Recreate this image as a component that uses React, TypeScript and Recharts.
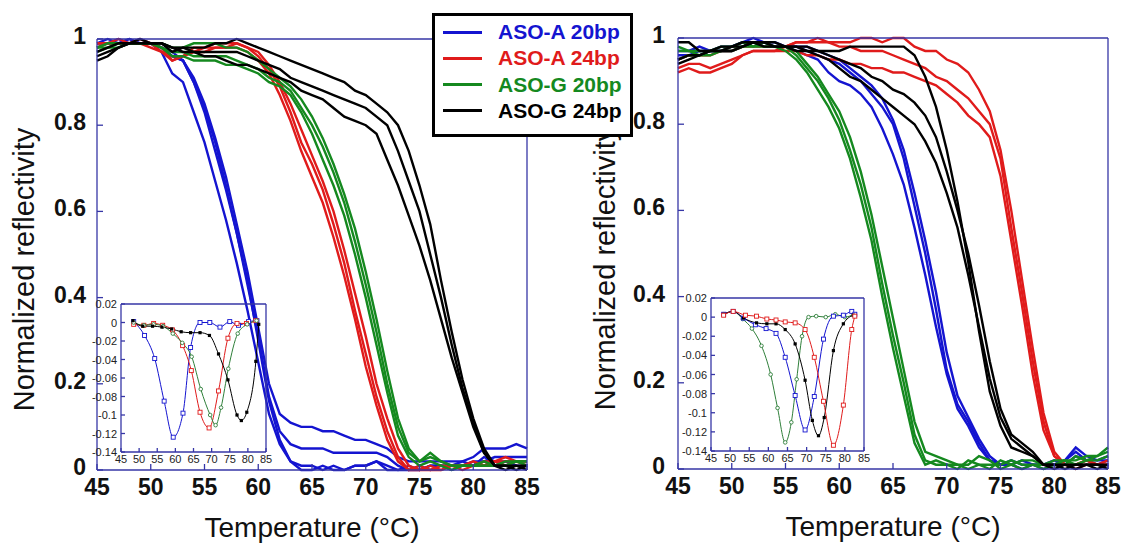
import type { CSSProperties } from 'react';
import { LineChart, Line, XAxis, YAxis } from 'recharts';

const FRAME = '#3636a6';
const FONT = '"Liberation Sans", Arial, Helvetica, sans-serif';
const BLUE = '#1414d0';
const RED = '#e01b1b';
const GREEN = '#15891f';
const BLACK = '#000000';

const TEMPS = [
  45, 46, 47, 48, 49, 50, 51, 52, 53, 54, 55, 56, 57, 58, 59, 60, 61, 62, 63, 64, 65,
  66, 67, 68, 69, 70, 71, 72, 73, 74, 75, 76, 77, 78, 79, 80, 81, 82, 83, 84, 85,
];
const X_TICKS = [45, 50, 55, 60, 65, 70, 75, 80, 85];
const Y_TICKS = [0, 0.2, 0.4, 0.6, 0.8, 1];
const INSET_Y_TICKS = [-0.14, -0.12, -0.1, -0.08, -0.06, -0.04, -0.02, 0, 0.02];
const LEGEND_NAMES = ['ASO-A 20bp', 'ASO-A 24bp', 'ASO-G 20bp', 'ASO-G 24bp'];
const LEGEND_COLORS = [BLUE, RED, GREEN, BLACK];

// left panel, one value per degree from 45 to 85
const L_BLUE_1 = [
  0.99, 0.99, 1.0, 0.99, 0.99, 0.99, 0.98, 0.96, 0.95, 0.9,
  0.83, 0.74, 0.65, 0.55, 0.44, 0.3, 0.16, 0.07, 0.02, 0.01,
  0.01, 0.0, 0.01, 0.0, 0.01, 0.01, 0.02, 0.0, 0.0, 0.01,
  0.0, 0.01, 0.01, 0.01, 0.02, 0.01, 0.03, 0.02, 0.02, 0.02, 0.02,
];
const L_BLUE_2 = [
  0.98, 0.99, 0.99, 1.0, 0.99, 0.99, 0.98, 0.97, 0.95, 0.91,
  0.85, 0.77, 0.68, 0.57, 0.46, 0.33, 0.2, 0.13, 0.11, 0.1,
  0.1, 0.09, 0.09, 0.08, 0.07, 0.07, 0.06, 0.05, 0.03, 0.02,
  0.02, 0.02, 0.02, 0.02, 0.02, 0.03, 0.05, 0.05, 0.05, 0.06, 0.05,
];
const L_BLUE_3 = [
  0.99, 1.0, 0.99, 0.99, 1.0, 0.99, 0.98, 0.96, 0.95, 0.9,
  0.84, 0.76, 0.66, 0.55, 0.43, 0.31, 0.17, 0.09, 0.06, 0.05,
  0.05, 0.05, 0.04, 0.04, 0.04, 0.04, 0.04, 0.03, 0.01, 0.0,
  0.0, 0.01, 0.01, 0.0, 0.01, 0.02, 0.02, 0.03, 0.03, 0.03, 0.03,
];
const L_BLUE_4 = [
  0.99, 0.99, 0.99, 1.0, 0.99, 0.99, 0.97, 0.92, 0.9, 0.83,
  0.76, 0.67, 0.58, 0.48, 0.37, 0.25, 0.13, 0.06, 0.02, 0.0,
  0.0, 0.01, 0.0, 0.0, 0.01, 0.01, 0.02, 0.01, 0.0, 0.0,
  0.01, 0.0, 0.01, 0.01, 0.01, 0.01, 0.02, 0.01, 0.02, 0.01, 0.01,
];
const L_RED_1 = [
  0.99, 0.99, 0.99, 0.99, 0.99, 0.99, 0.98, 0.95, 0.96, 0.98,
  0.98, 0.98, 0.98, 0.99, 0.98, 0.96, 0.93, 0.89, 0.83, 0.76,
  0.71, 0.65, 0.57, 0.48, 0.37, 0.27, 0.17, 0.09, 0.03, 0.0,
  0.0, 0.01, 0.0, 0.01, 0.01, 0.01, 0.02, 0.02, 0.02, 0.02, 0.02,
];
const L_RED_2 = [
  0.98, 0.99, 0.99, 0.99, 1.0, 0.99, 0.97, 0.95, 0.96, 0.97,
  0.98, 0.99, 0.99, 0.99, 0.98, 0.97, 0.94, 0.9, 0.85, 0.79,
  0.73, 0.67, 0.6, 0.51, 0.41, 0.31, 0.2, 0.12, 0.05, 0.01,
  0.0, 0.0, 0.01, 0.01, 0.0, 0.01, 0.01, 0.02, 0.03, 0.02, 0.02,
];
const L_RED_3 = [
  0.99, 0.99, 1.0, 0.99, 0.99, 0.98, 0.97, 0.96, 0.96, 0.97,
  0.97, 0.98, 0.98, 0.98, 0.97, 0.95, 0.92, 0.87, 0.81, 0.74,
  0.68, 0.62, 0.54, 0.45, 0.35, 0.24, 0.15, 0.07, 0.02, 0.0,
  0.01, 0.0, 0.0, 0.01, 0.01, 0.02, 0.01, 0.02, 0.01, 0.02, 0.01,
];
const L_GREEN_1 = [
  0.98, 0.99, 0.99, 0.99, 0.99, 0.99, 0.99, 0.98, 0.98, 0.99,
  0.99, 0.99, 0.98, 0.98, 0.97, 0.95, 0.93, 0.91, 0.89, 0.86,
  0.82, 0.77, 0.71, 0.64, 0.56, 0.46, 0.35, 0.23, 0.12, 0.05,
  0.02, 0.03, 0.02, 0.01, 0.01, 0.01, 0.01, 0.01, 0.02, 0.02, 0.02,
];
const L_GREEN_2 = [
  0.98, 0.98, 0.99, 0.99, 0.99, 0.99, 0.98, 0.96, 0.96, 0.95,
  0.95, 0.95, 0.94, 0.94, 0.93, 0.92, 0.9, 0.89, 0.87, 0.83,
  0.78, 0.72, 0.66, 0.59, 0.5, 0.4, 0.29, 0.18, 0.08, 0.03,
  0.01, 0.02, 0.01, 0.0, 0.01, 0.01, 0.01, 0.01, 0.01, 0.02, 0.01,
];
const L_GREEN_3 = [
  0.97, 0.98, 0.98, 0.99, 0.99, 0.99, 0.98, 0.97, 0.97, 0.96,
  0.96, 0.96, 0.96, 0.95, 0.94, 0.93, 0.91, 0.9, 0.88, 0.84,
  0.8, 0.75, 0.69, 0.62, 0.53, 0.43, 0.32, 0.2, 0.1, 0.04,
  0.02, 0.04, 0.02, 0.01, 0.01, 0.01, 0.02, 0.01, 0.01, 0.02, 0.02,
];
const L_BLACK_1 = [
  0.97, 0.98, 0.99, 0.99, 0.99, 0.99, 0.99, 0.98, 0.98, 0.98,
  0.98, 0.99, 0.99, 1.0, 0.99, 0.98, 0.97, 0.96, 0.95, 0.94,
  0.93, 0.92, 0.91, 0.9, 0.88, 0.87, 0.85, 0.83, 0.8, 0.74,
  0.66, 0.57, 0.44, 0.32, 0.21, 0.12, 0.05, 0.01, 0.01, 0.0, 0.01,
];
const L_BLACK_2 = [
  0.95, 0.96, 0.98, 0.99, 0.99, 0.99, 0.99, 0.97, 0.98, 0.97,
  0.96, 0.96, 0.95, 0.94, 0.94, 0.93, 0.92, 0.91, 0.9, 0.88,
  0.87, 0.86, 0.84, 0.82, 0.81, 0.8, 0.78, 0.72, 0.66, 0.59,
  0.52, 0.44, 0.35, 0.26, 0.18, 0.1, 0.04, 0.01, 0.01, 0.01, 0.0,
];
const L_BLACK_3 = [
  0.96, 0.97, 0.98, 0.99, 1.0, 0.99, 0.99, 0.98, 0.97, 0.97,
  0.97, 0.97, 0.97, 0.97, 0.96, 0.95, 0.94, 0.93, 0.91, 0.9,
  0.89, 0.88, 0.87, 0.86, 0.85, 0.84, 0.82, 0.8, 0.74, 0.67,
  0.6, 0.5, 0.4, 0.29, 0.19, 0.11, 0.04, 0.01, 0.0, 0.01, 0.01,
];

// right panel, same grid
const R_BLUE_1 = [
  0.96, 0.96, 0.97, 0.97, 0.97, 0.98, 0.99, 0.99, 0.98, 0.98,
  0.98, 0.98, 0.97, 0.96, 0.95, 0.94, 0.92, 0.9, 0.87, 0.84,
  0.8, 0.72, 0.61, 0.5, 0.37, 0.23, 0.15, 0.11, 0.06, 0.02,
  0.01, 0.02, 0.01, 0.01, 0.01, 0.01, 0.02, 0.04, 0.02, 0.02, 0.03,
];
const R_BLUE_2 = [
  0.97, 0.97, 0.98, 0.97, 0.98, 0.98, 0.99, 1.0, 0.99, 0.98,
  0.98, 0.97, 0.96, 0.95, 0.92, 0.9, 0.89, 0.87, 0.84, 0.79,
  0.73, 0.66, 0.56, 0.45, 0.33, 0.22, 0.14, 0.1, 0.05, 0.02,
  0.01, 0.01, 0.0, 0.01, 0.01, 0.02, 0.01, 0.03, 0.02, 0.01, 0.02,
];
const R_BLUE_3 = [
  0.95, 0.96, 0.96, 0.97, 0.97, 0.97, 0.98, 0.99, 0.99, 0.99,
  0.98, 0.98, 0.98, 0.97, 0.96, 0.95, 0.93, 0.91, 0.89, 0.86,
  0.81, 0.74, 0.64, 0.53, 0.41, 0.27, 0.17, 0.12, 0.07, 0.03,
  0.01, 0.01, 0.02, 0.01, 0.0, 0.01, 0.02, 0.05, 0.03, 0.02, 0.02,
];
const R_RED_1 = [
  0.93, 0.94, 0.94, 0.93, 0.94, 0.95, 0.96, 0.97, 0.97, 0.97,
  0.98, 0.99, 0.99, 0.99, 0.99, 0.98, 0.98, 0.97, 0.97, 0.97,
  0.96, 0.95, 0.94, 0.93, 0.91, 0.9, 0.88, 0.86, 0.83, 0.8,
  0.72, 0.56, 0.41, 0.25, 0.11, 0.03, 0.01, 0.01, 0.02, 0.01, 0.01,
];
const R_RED_2 = [
  0.95, 0.96, 0.96, 0.96, 0.97, 0.97, 0.98, 0.98, 0.98, 0.98,
  0.98, 0.99, 0.99, 1.0, 0.99, 0.99, 0.99, 1.0, 1.0, 0.99,
  1.0, 1.0, 0.98, 0.97, 0.97, 0.95, 0.94, 0.92, 0.88, 0.83,
  0.74, 0.6, 0.44, 0.28, 0.13, 0.04, 0.01, 0.01, 0.02, 0.01, 0.02,
];
const R_RED_3 = [
  0.92, 0.93, 0.92, 0.92, 0.93, 0.94, 0.96, 0.97, 0.97, 0.97,
  0.97, 0.97, 0.96, 0.96, 0.95, 0.95, 0.94, 0.94, 0.93, 0.93,
  0.92, 0.92, 0.91, 0.9, 0.89, 0.87, 0.85, 0.82, 0.8, 0.77,
  0.68, 0.53, 0.38, 0.22, 0.09, 0.03, 0.01, 0.0, 0.01, 0.01, 0.01,
];
const R_GREEN_1 = [
  0.97, 0.97, 0.96, 0.96, 0.97, 0.97, 0.98, 0.99, 0.98, 0.98,
  0.98, 0.96, 0.93, 0.9, 0.86, 0.81, 0.74, 0.66, 0.56, 0.43,
  0.31, 0.2, 0.08, 0.02, 0.01, 0.01, 0.0, 0.02, 0.01, 0.01,
  0.01, 0.02, 0.01, 0.01, 0.01, 0.02, 0.02, 0.02, 0.03, 0.03, 0.04,
];
const R_GREEN_2 = [
  0.95, 0.96, 0.96, 0.97, 0.97, 0.98, 0.98, 0.98, 0.99, 0.98,
  0.98, 0.97, 0.94, 0.91, 0.87, 0.83, 0.77, 0.69, 0.59, 0.47,
  0.35, 0.23, 0.11, 0.04, 0.03, 0.02, 0.01, 0.01, 0.03, 0.02,
  0.0, 0.01, 0.02, 0.02, 0.01, 0.01, 0.01, 0.03, 0.02, 0.03, 0.05,
];
const R_GREEN_3 = [
  0.98, 0.97, 0.97, 0.97, 0.98, 0.98, 0.99, 0.98, 0.98, 0.98,
  0.97, 0.95, 0.92, 0.88, 0.84, 0.79, 0.72, 0.63, 0.53, 0.4,
  0.28, 0.17, 0.06, 0.01, 0.02, 0.01, 0.01, 0.0, 0.01, 0.0,
  0.02, 0.01, 0.0, 0.01, 0.0, 0.01, 0.02, 0.01, 0.02, 0.02, 0.03,
];
const R_BLACK_1 = [
  0.99, 0.99, 0.97, 0.97, 0.97, 0.98, 0.99, 0.99, 0.99, 0.99,
  0.98, 0.98, 0.98, 0.97, 0.97, 0.97, 0.98, 0.98, 0.98, 0.98,
  0.98, 0.98, 0.96, 0.91, 0.84, 0.74, 0.62, 0.48, 0.32, 0.18,
  0.1, 0.05, 0.04, 0.03, 0.01, 0.0, 0.01, 0.01, 0.01, 0.01, 0.0,
];
const R_BLACK_2 = [
  0.95, 0.96, 0.96, 0.97, 0.97, 0.97, 0.98, 0.99, 0.98, 0.98,
  0.98, 0.97, 0.97, 0.96, 0.95, 0.93, 0.91, 0.9, 0.88, 0.86,
  0.84, 0.82, 0.8, 0.76, 0.71, 0.64, 0.56, 0.45, 0.33, 0.21,
  0.12, 0.07, 0.05, 0.03, 0.01, 0.01, 0.0, 0.01, 0.01, 0.0, 0.01,
];
const R_BLACK_3 = [
  0.94, 0.95, 0.96, 0.97, 0.98, 0.98, 0.98, 0.99, 0.99, 0.98,
  0.98, 0.98, 0.97, 0.97, 0.96, 0.95, 0.94, 0.93, 0.91, 0.9,
  0.88, 0.87, 0.85, 0.82, 0.77, 0.69, 0.6, 0.5, 0.38, 0.25,
  0.14, 0.08, 0.06, 0.04, 0.01, 0.01, 0.01, 0.0, 0.01, 0.01, 0.01,
];

// insets: derivative curves, [temperature, dR/dT]
const LI_BLUE: [number, number][] = [
  [48.5, 0.001], [51.5, -0.014], [54.3, -0.039], [56.9, -0.085], [59.4, -0.124], [62.1, -0.098],
  [64.2, -0.027], [66.8, 0], [69.5, 0], [72.3, -0.005], [75, 0.001], [77.4, -0.003], [80.2, 0.001], [82.5, 0.002],
];
const LI_RED: [number, number][] = [
  [48.5, -0.002], [51.3, -0.003], [54, -0.001], [56.5, -0.003], [59.2, -0.008], [62, -0.025], [64.4, -0.052],
  [66.8, -0.097], [69.3, -0.114], [71.9, -0.074], [74.5, -0.017], [77, -0.001], [79.6, -0.001], [82.2, 0.002],
];
const LI_GREEN: [number, number][] = [
  [48.5, 0], [51.3, -0.003], [54, -0.002], [56.6, -0.004], [59.3, -0.012], [61.9, -0.022], [64.5, -0.037],
  [67, -0.072], [69.6, -0.1], [71.1, -0.111], [72.6, -0.092], [74.6, -0.05], [77.2, -0.012], [79.8, -0.002], [82.4, 0.002],
];
const LI_BLACK: [number, number][] = [
  [48.3, 0.002], [51, -0.004], [53.7, -0.004], [56.3, -0.005], [59, -0.007], [61.6, -0.01], [64.2, -0.011],
  [66.8, -0.011], [69.4, -0.014], [71.9, -0.034], [74.5, -0.062], [77, -0.1], [78.2, -0.106], [79.7, -0.097],
  [82.2, -0.042], [83, -0.002],
];
const RI_GREEN: [number, number][] = [
  [48.3, 0.003], [50.8, 0.006], [53.3, -0.002], [55.7, -0.012], [58.2, -0.03], [60.6, -0.06], [62.4, -0.095],
  [64.4, -0.131], [66, -0.11], [67.4, -0.065], [68.8, -0.02], [70.5, 0], [72.5, 0.001], [75, 0], [77.5, 0.003],
  [80, 0], [82.3, 0.003],
];
const RI_BLUE: [number, number][] = [
  [48.3, 0.003], [50.8, 0.006], [53.5, -0.001], [56.6, -0.008], [59.4, -0.012], [62, -0.017], [64.4, -0.042],
  [67, -0.082], [69.6, -0.118], [72, -0.083], [74.4, -0.023], [77, 0.001], [79.6, 0.002], [81.8, 0.006], [82.6, 0.003],
];
const RI_BLACK: [number, number][] = [
  [48.3, 0.003], [50.8, 0.006], [53.5, -0.001], [56.9, -0.006], [59.6, -0.007], [62, -0.007], [64.4, -0.013],
  [67, -0.028], [69.6, -0.066], [71.5, -0.108], [73.1, -0.124], [74.6, -0.105], [77, -0.035], [79.6, -0.007], [82.2, 0.002],
];
const RI_RED: [number, number][] = [
  [48.3, 0.002], [50.8, 0.006], [54, 0.002], [56.9, 0.001], [59.6, -0.002], [62, -0.003], [64.4, -0.005],
  [67, -0.006], [69.6, -0.013], [72, -0.042], [74.4, -0.088], [77, -0.134], [79.6, -0.092], [81.8, -0.013], [82.6, 0.001],
];

type Curve = { color: string; values: number[] };
type InsetSeries = { color: string; marker: 'square' | 'circle' | 'solid'; pts: [number, number][] };

const LEFT_CURVES: Curve[] = [
  { color: BLUE, values: L_BLUE_1 }, { color: BLUE, values: L_BLUE_2 },
  { color: BLUE, values: L_BLUE_3 }, { color: BLUE, values: L_BLUE_4 },
  { color: RED, values: L_RED_1 }, { color: RED, values: L_RED_2 }, { color: RED, values: L_RED_3 },
  { color: GREEN, values: L_GREEN_1 }, { color: GREEN, values: L_GREEN_2 }, { color: GREEN, values: L_GREEN_3 },
  { color: BLACK, values: L_BLACK_1 }, { color: BLACK, values: L_BLACK_2 }, { color: BLACK, values: L_BLACK_3 },
];
const RIGHT_CURVES: Curve[] = [
  { color: BLUE, values: R_BLUE_1 }, { color: BLUE, values: R_BLUE_2 }, { color: BLUE, values: R_BLUE_3 },
  { color: RED, values: R_RED_1 }, { color: RED, values: R_RED_2 }, { color: RED, values: R_RED_3 },
  { color: GREEN, values: R_GREEN_1 }, { color: GREEN, values: R_GREEN_2 }, { color: GREEN, values: R_GREEN_3 },
  { color: BLACK, values: R_BLACK_1 }, { color: BLACK, values: R_BLACK_2 }, { color: BLACK, values: R_BLACK_3 },
];
const LEFT_INSET: InsetSeries[] = [
  { color: BLUE, marker: 'square', pts: LI_BLUE },
  { color: RED, marker: 'square', pts: LI_RED },
  { color: '#2f7f3a', marker: 'circle', pts: LI_GREEN },
  { color: BLACK, marker: 'solid', pts: LI_BLACK },
];
const RIGHT_INSET: InsetSeries[] = [
  { color: '#2f7f3a', marker: 'circle', pts: RI_GREEN },
  { color: BLUE, marker: 'square', pts: RI_BLUE },
  { color: BLACK, marker: 'solid', pts: RI_BLACK },
  { color: RED, marker: 'square', pts: RI_RED },
];

const toPoints = (values: number[]) => TEMPS.map((t, i) => ({ t, r: values[i] }));

const BIG_TXT: CSSProperties = { fontFamily: FONT, fontSize: 23, fontWeight: 700, fill: '#111' };
const SMALL_TXT: CSSProperties = { fontFamily: FONT, fontSize: 11, fill: '#222' };

// inward ticks, drawn by hand (recharts only points them outward)
const bottomTick = (len: number, dy: number, txt: CSSProperties) => (p: any) => (
  <g>
    <line x1={p.x} y1={p.y} x2={p.x} y2={p.y - len} stroke={FRAME} strokeWidth={1.3} />
    <text x={p.x} y={p.y + dy} textAnchor="middle" style={txt}>{p.payload.value}</text>
  </g>
);
const leftTick = (len: number, gap: number, dy: number, txt: CSSProperties) => (p: any) => (
  <g>
    <line x1={p.x} y1={p.y} x2={p.x + len} y2={p.y} stroke={FRAME} strokeWidth={1.3} />
    <text x={p.x - gap} y={p.y + dy} textAnchor="end" style={txt}>{p.payload.value}</text>
  </g>
);
const topTick = (len: number) => (p: any) => (
  <line x1={p.x} y1={p.y} x2={p.x} y2={p.y + len} stroke={FRAME} strokeWidth={1.3} />
);
const rightTick = (len: number) => (p: any) => (
  <line x1={p.x} y1={p.y} x2={p.x - len} y2={p.y} stroke={FRAME} strokeWidth={1.3} />
);

const markerDot = (s: InsetSeries) => (p: any) => {
  const { cx, cy, index } = p;
  if (cx == null || cy == null) return <g key={index} />;
  if (s.marker === 'circle')
    return <circle key={index} cx={cx} cy={cy} r={1.8} fill="#fff" stroke={s.color} strokeWidth={0.9} />;
  if (s.marker === 'solid')
    return <rect key={index} x={cx - 1.6} y={cy - 1.6} width={3.2} height={3.2} fill={s.color} />;
  return <rect key={index} x={cx - 2} y={cy - 2} width={4} height={4} fill="#fff" stroke={s.color} strokeWidth={0.9} />;
};

const axisLine = { stroke: FRAME, strokeWidth: 1.3 };

// axes get a 1px band (recharts skips axes of zero size), margins are reduced to match
function MeltPanel({ curves, left, width, box, labelGap }: {
  curves: Curve[]; left: number; width: number; labelGap: number;
  box: { top: number; left: number; right: number; bottom: number };
}) {
  const margin = { top: box.top - 1, left: box.left - 1, right: box.right - 1, bottom: box.bottom - 1 };
  return (
    <div style={{ position: 'absolute', left, top: 0 }}>
      <LineChart width={width} height={545} margin={margin}>
        <XAxis
          xAxisId="b" dataKey="t" type="number" domain={[45, 85]} ticks={X_TICKS} interval={0}
          height={1} tickSize={0} tickMargin={0} tickLine={false} axisLine={axisLine}
          tick={bottomTick(6, 25, BIG_TXT)}
          label={{ value: 'Temperature (°C)', position: 'bottom', offset: 46, fontSize: 28, fontFamily: FONT, fill: '#111' }}
        />
        <XAxis
          xAxisId="t" orientation="top" dataKey="t" type="number" domain={[45, 85]} ticks={X_TICKS} interval={0}
          height={1} tickSize={0} tickMargin={0} tickLine={false} axisLine={axisLine} tick={topTick(6)}
        />
        <YAxis
          yAxisId="l" type="number" domain={[0, 1]} ticks={Y_TICKS} interval={0}
          width={1} tickSize={0} tickMargin={0} tickLine={false} axisLine={axisLine}
          tick={leftTick(6, labelGap, 5, BIG_TXT)}
          label={{
            value: 'Normalized reflectivity', position: 'left', angle: -90, offset: 72, dy: 15,
            fontSize: 29, fontFamily: FONT, fill: '#111', style: { textAnchor: 'middle' },
          }}
        />
        <YAxis
          yAxisId="r" orientation="right" type="number" domain={[0, 1]} ticks={Y_TICKS} interval={0}
          width={1} tickSize={0} tickMargin={0} tickLine={false} axisLine={axisLine} tick={rightTick(6)}
        />
        {curves.map((c, i) => (
          <Line
            key={i} xAxisId="b" yAxisId="l" data={toPoints(c.values)} dataKey="r" type="linear"
            stroke={c.color} strokeWidth={2.4} dot={false} isAnimationActive={false}
          />
        ))}
      </LineChart>
    </div>
  );
}

function Inset({ series, box }: { series: InsetSeries[]; box: { x0: number; y0: number; x1: number; y1: number } }) {
  const pad = { top: 8, left: 30, right: 10, bottom: 16 };
  const margin = { top: pad.top - 1, left: pad.left - 1, right: pad.right - 1, bottom: pad.bottom - 1 };
  return (
    <div style={{ position: 'absolute', left: box.x0 - pad.left, top: box.y0 - pad.top, pointerEvents: 'none' }}>
      <LineChart width={box.x1 - box.x0 + pad.left + pad.right} height={box.y1 - box.y0 + pad.top + pad.bottom} margin={margin}>
        <XAxis
          xAxisId="b" dataKey="t" type="number" domain={[45, 85]} ticks={X_TICKS} interval={0}
          height={1} tickSize={0} tickMargin={0} tickLine={false} axisLine={axisLine}
          tick={bottomTick(4, 11, SMALL_TXT)}
        />
        <XAxis
          xAxisId="t" orientation="top" dataKey="t" type="number" domain={[45, 85]} ticks={X_TICKS} interval={0}
          height={1} tickSize={0} tickMargin={0} tickLine={false} axisLine={axisLine} tick={topTick(4)}
        />
        <YAxis
          yAxisId="l" type="number" domain={[-0.14, 0.02]} ticks={INSET_Y_TICKS} interval={0}
          width={1} tickSize={0} tickMargin={0} tickLine={false} axisLine={axisLine}
          tick={leftTick(4, 4, 4, SMALL_TXT)}
        />
        <YAxis
          yAxisId="r" orientation="right" type="number" domain={[-0.14, 0.02]} ticks={INSET_Y_TICKS} interval={0}
          width={1} tickSize={0} tickMargin={0} tickLine={false} axisLine={axisLine} tick={rightTick(4)}
        />
        {series.map((s, i) => (
          <Line
            key={i} xAxisId="b" yAxisId="l" data={s.pts.map(([t, d]) => ({ t, d }))} dataKey="d" type="monotone"
            stroke={s.color} strokeWidth={1} dot={markerDot(s)} isAnimationActive={false}
          />
        ))}
      </LineChart>
    </div>
  );
}

function LegendBox() {
  return (
    <div style={{
      position: 'absolute', left: 432, top: 13, width: 201, height: 124, boxSizing: 'border-box',
      border: '3px solid #000', background: '#fff', fontFamily: FONT,
    }}>
      {LEGEND_NAMES.map((name, i) => (
        <div key={name} style={{ position: 'absolute', left: 8, top: 4 + i * 26.3, height: 24, display: 'flex', alignItems: 'center' }}>
          <span style={{ display: 'inline-block', width: 39, height: 3, background: LEGEND_COLORS[i] }} />
          <span style={{ marginLeft: 16, fontSize: 21, fontWeight: 700, color: LEGEND_COLORS[i], whiteSpace: 'nowrap' }}>{name}</span>
        </div>
      ))}
    </div>
  );
}

export default function App() {
  return (
    <div style={{ position: 'absolute', left: 0, top: 0, width: 1121, height: 545, background: '#fff', overflow: 'hidden' }}>
      <MeltPanel curves={LEFT_CURVES} left={0} width={560} labelGap={11} box={{ top: 39, left: 97, right: 33, bottom: 75 }} />
      <MeltPanel curves={RIGHT_CURVES} left={560} width={561} labelGap={13} box={{ top: 38, left: 118, right: 13, bottom: 76 }} />
      <Inset series={LEFT_INSET} box={{ x0: 121, y0: 304, x1: 266, y1: 452 }} />
      <Inset series={RIGHT_INSET} box={{ x0: 711, y0: 298, x1: 864, y1: 451 }} />
      <LegendBox />
    </div>
  );
}
